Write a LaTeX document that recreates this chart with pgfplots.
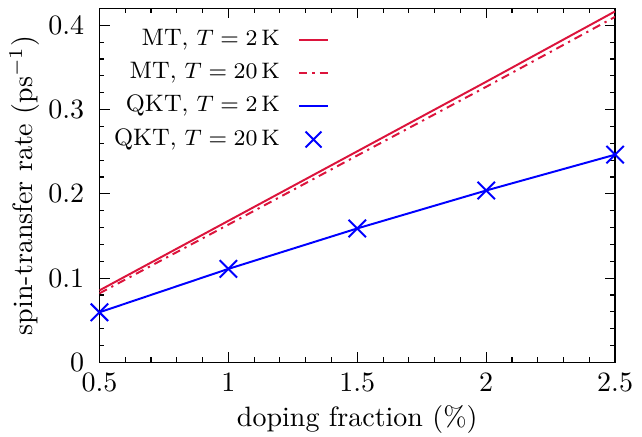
\documentclass[border=0pt]{standalone}
\usepackage{pgfplots}
\pgfplotsset{compat=1.18}
\definecolor{crim}{RGB}{220,20,60}
\pgfplotsset{
  shortline/.style={legend image code/.code={\path (0pt,0pt); \draw[##1] (5.4pt,0cm) -- (15.9pt,0cm);}},
  crossleg/.style={legend image code/.code={\path (0pt,0pt) (15.9pt,0pt); \draw[##1] (7.8pt,-2.85pt) -- (13.5pt,2.85pt) (7.8pt,2.85pt) -- (13.5pt,-2.85pt);}},
}
\begin{document}
\begin{tikzpicture}
\begin{axis}[
  scale only axis,
  width=184.1pt, height=126.4pt,
  xmin=0.5, xmax=2.5, ymin=0, ymax=0.42,
  xtick={0.5,1,1.5,2,2.5},
  ytick={0,0.1,0.2,0.3,0.4},
  minor x tick num=4, minor y tick num=4,
  tick align=inside, tick pos=both,
  major tick length=3.6pt, minor tick length=1.8pt,
  axis line style={black, line width=0.45pt},
  every tick/.style={black, line width=0.4pt},
  xticklabel style={/pgf/number format/fixed, yshift=-0.5pt},
  yticklabel style={/pgf/number format/fixed, xshift=-1.9pt},
  xlabel={doping fraction (\%)},
  ylabel={spin-transfer rate (ps$^{-1}$)},
  xlabel style={at={(axis description cs:0.5,-0.182)}, anchor=base},
  ylabel style={at={(axis description cs:-0.130,0.5)}, anchor=base},
  legend style={draw=none, fill=none, at={(axis description cs:0.463,0.969)}, anchor=north east,
    row sep=1.9pt, font=\fontsize{8.5}{10.2}\selectfont,
    nodes={text height=6pt, text depth=2pt, inner sep=1pt}},
  legend cell align=right,
  legend plot pos=right,
]
\addplot[crim, line width=0.7pt, shortline] coordinates {(0.5,0.0855) (1,0.1680) (1.5,0.2505) (2,0.3330) (2.5,0.4165)};
\addlegendentry{MT, $T=2\,\mathrm{K}$}
\addplot[crim, line width=0.7pt, shortline, dash pattern=on 3pt off 1.8pt on 0.8pt off 1.8pt] coordinates {(0.5,0.0820) (1,0.1635) (1.5,0.2455) (2,0.3270) (2.5,0.4100)};
\addlegendentry{MT, $T=20\,\mathrm{K}$}
\addplot[blue, line width=0.7pt, shortline] coordinates {(0.5,0.0595) (1,0.1110) (1.5,0.1590) (2,0.2040) (2.5,0.2465)};
\addlegendentry{QKT, $T=2\,\mathrm{K}$}
\addplot[blue, only marks, mark=x, mark size=4.4pt, line width=0.7pt, crossleg] coordinates {(0.5,0.0595) (1,0.1110) (1.5,0.1590) (2,0.2040) (2.5,0.2465)};
\addlegendentry{QKT, $T=20\,\mathrm{K}$}
\end{axis}
\pgfresetboundingbox
\path ([xshift=-35.5pt,yshift=-26.6pt]current axis.south west) rectangle ([xshift=9.6pt,yshift=3.0pt]current axis.north east);
\end{tikzpicture}
\end{document}
